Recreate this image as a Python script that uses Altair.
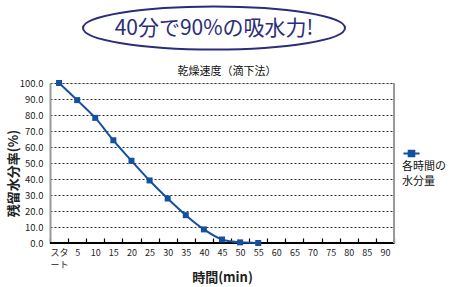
import altair as alt
import pandas as pd

times = ["スタート", "5", "10", "15", "20", "25", "30", "35", "40", "45",
         "50", "55", "60", "65", "70", "75", "80", "85", "90"]
measured_times = ["スタート", "5", "10", "15", "20", "25", "30", "35", "40", "45", "50", "55"]
moisture = [100.0, 89.3, 78.2, 64.2, 51.4, 39.1, 27.8, 17.4, 8.5, 2.2, 0.4, 0.0]
y_ticks = [0, 10, 20, 30, 40, 50, 60, 70, 80, 90, 100]
series_name = "各時間の水分量"
headline = "40分で90%の吸水力!"
chart_title = "乾燥速度（滴下法）"

FONT = "Noto Sans CJK JP"
NAVY = "#2b2d7a"
BLUE = "#1450a0"

df = pd.DataFrame({"time": measured_times, "value": moisture, "series": series_name})

y_scale = alt.Scale(domain=[0, 100], nice=False)
y_axis = alt.Axis(title="残留水分率(%)", values=y_ticks, format=".1f", tickCount=11,
                  labelFontSize=9.5, labelColor="#222", labelFont=FONT, ticks=False,
                  labelPadding=7, labelOverlap=False, domain=True, domainColor="#999",
                  domainWidth=2, grid=True, gridColor="#333", gridDash=[2, 2],
                  gridWidth=1, titleFontSize=13, titleFont=FONT,
                  titleFontWeight="bold", titleColor="#222",
                  titleX=-37, titleY=90, titleAngle=270, titleBaseline="middle",
                  titleAlign="center")

x_enc = alt.X("time:N", sort=times, scale=alt.Scale(domain=times, paddingInner=0, paddingOuter=0),
              axis=alt.Axis(title="時間(min)", labelAngle=0, labelFontSize=9, labelColor="#222",
                            labelPadding=5, labelFont=FONT, labelLineHeight=12,
                            labelExpr="datum.value == 'スタート' ? ['スタ', 'ート'] : datum.label",
                            labelBaseline="top", labelOverlap=False,
                            tickBand="extent", ticks=True, tickSize=5, tickColor="#000",
                            tickWidth=1.2, offset=-5, domain=False, grid=False,
                            titleFontSize=13, titleFont=FONT, titleFontWeight="bold",
                            titleColor="#222", titlePadding=2))

base_rule = alt.Chart(pd.DataFrame({"v": [0]})).mark_rule(color="#000", strokeWidth=2).encode(
    y=alt.Y("v:Q", scale=y_scale, axis=y_axis))

right_rule = alt.Chart(pd.DataFrame({"v": [0]})).mark_rule(color="#999", strokeWidth=2).encode(
    x=alt.value(344), y=alt.value(0), y2=alt.value(160))

line = alt.Chart(df).mark_line(
    interpolate="monotone", strokeWidth=2,
    point=alt.OverlayMarkDef(shape="square", size=36, filled=True, color=BLUE, opacity=1),
).encode(
    x=x_enc,
    y=alt.Y("value:Q", scale=y_scale, axis=y_axis),
    color=alt.Color("series:N", scale=alt.Scale(range=[BLUE]),
                    legend=alt.Legend(orient="none", legendX=352, legendY=61,
                                      title=["各時間の", "水分量"], titleOrient="bottom",
                                      titleFont=FONT, titleFontSize=11, titleFontWeight="normal",
                                      titleLineHeight=15, titleAnchor="start",
                                      titleColor="#111", titlePadding=1, labelExpr="''",
                                      symbolType="M-1,0H1M-0.35,-0.35H0.35V0.35H-0.35Z",
                                      symbolSize=260, symbolStrokeWidth=2,
                                      symbolFillColor=BLUE, symbolStrokeColor=BLUE,
                                      symbolOffset=0)),
)

ellipse = alt.Chart(pd.DataFrame({"t": [headline]})).mark_point(
    shape="M-1,0A1,0.165 0 1,1 1,0A1,0.165 0 1,1 -1,0Z",
    size=262 * 262, filled=False, stroke=NAVY, strokeWidth=2, opacity=1, clip=False,
).encode(x=alt.value(164), y=alt.value(-55))

head_text = alt.Chart(pd.DataFrame({"t": [headline]})).mark_text(
    font=FONT, fontSize=21, color=NAVY, align="center", baseline="middle", clip=False,
).encode(x=alt.value(164), y=alt.value(-54), text="t:N")

title_text = alt.Chart(pd.DataFrame({"t": [chart_title]})).mark_text(
    font=FONT, fontSize=11, color="#111", align="center", baseline="middle", clip=False,
).encode(x=alt.value(177), y=alt.value(-11), text="t:N")

chart = alt.layer(base_rule, right_rule, line, ellipse, head_text, title_text).properties(
    width=344, height=160,
    padding={"left": 50, "top": 83, "right": 56, "bottom": 44},
    autosize=alt.AutoSizeParams(type="none"),
).configure_view(stroke=None).configure(background="white")

chart.save("out.html", embed_options={"renderer": "svg", "actions": False})
